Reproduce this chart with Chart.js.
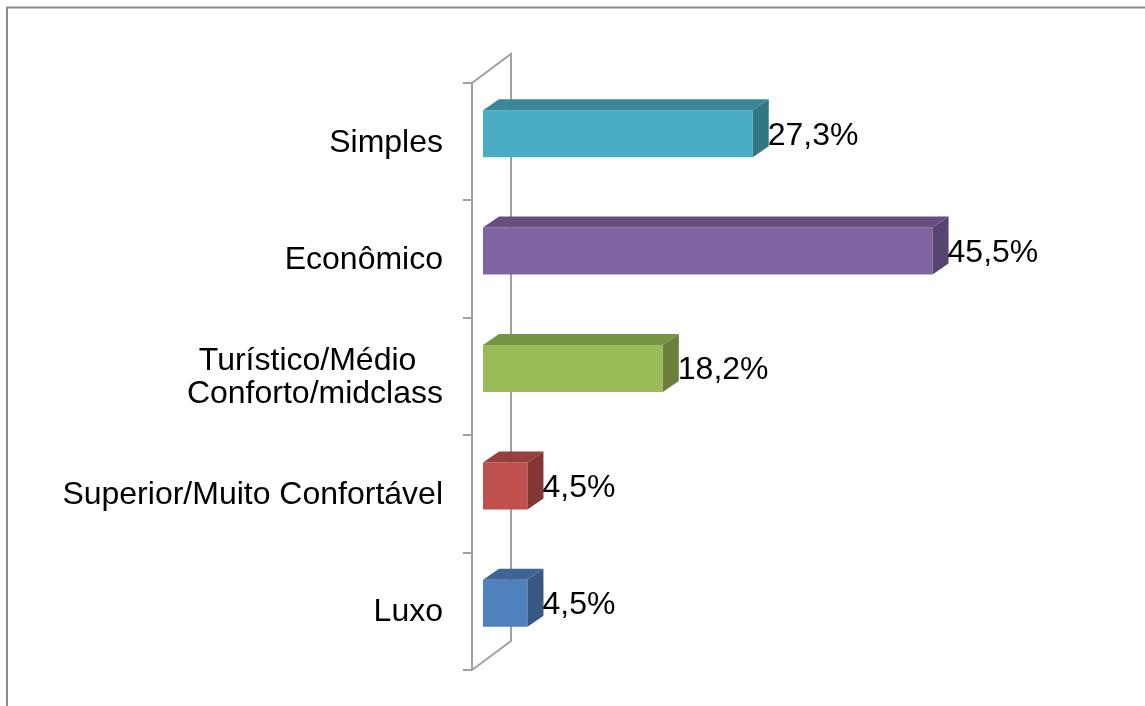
<!DOCTYPE html>
<html>
<head>
<meta charset="utf-8">
<script src="https://cdn.jsdelivr.net/npm/chart.js@4/dist/chart.umd.min.js"></script>
<style>
html,body{margin:0;padding:0;background:#fff;}
canvas{display:block;}
</style>
</head>
<body>
<canvas id="c" width="1145" height="706"></canvas>
<script>
const categories = ["Simples", "Econômico", ["Turístico/Médio\u00a0\u00a0\u00a0", "Conforto/midclass"], "Superior/Muito Confortável", "Luxo"];
const values = [27.3, 45.5, 18.2, 4.5, 4.5];
const frontColors = ["#4BACC6", "#8064A2", "#9BBB59", "#C0504D", "#4F81BD"];
const topColors = ["#3B8799", "#654F80", "#7A9446", "#973F3D", "#3E6595"];
const sideColors = ["#327585", "#574470", "#6A803C", "#833634", "#365881"];

const FONT = "'Liberation Sans', Arial, sans-serif";
const DX = 16, DY = -11;

const frame = {
  id: 'frame',
  beforeDraw(chart) {
    const ctx = chart.ctx;
    ctx.save();
    ctx.strokeStyle = '#8c8c8c';
    ctx.lineWidth = 2;
    ctx.strokeRect(7, 7.5, 1150, 710);
    ctx.restore();
  }
};

const wall = {
  id: 'wall',
  beforeDatasetsDraw(chart) {
    const ctx = chart.ctx, a = chart.chartArea;
    const fx = a.left - 11, bx = fx + 39, off = -29;
    const top = a.top + 8, bot = a.bottom + 8;
    ctx.save();
    ctx.strokeStyle = '#a0a0a0';
    ctx.lineWidth = 2;
    ctx.beginPath();
    ctx.moveTo(fx, bot); ctx.lineTo(fx, top); ctx.lineTo(bx, top + off); ctx.lineTo(bx, bot + off); ctx.lineTo(fx, bot);
    ctx.stroke();
    const n = categories.length;
    ctx.beginPath();
    for (let k = 0; k <= n; k++) {
      const y = Math.round(top + k * (bot - top) / n);
      ctx.moveTo(fx - 9, y); ctx.lineTo(fx, y);
    }
    ctx.stroke();
    ctx.restore();
  }
};

const bars3d = {
  id: 'bars3d',
  afterDatasetsDraw(chart) {
    const ctx = chart.ctx;
    const meta = chart.getDatasetMeta(0);
    ctx.save();
    meta.data.forEach((el, i) => {
      const p = el.getProps(['x', 'y', 'base', 'height'], true);
      const x0 = p.base, x1 = p.x, yT = p.y - p.height / 2, yB = p.y + p.height / 2;
      ctx.fillStyle = topColors[i];
      ctx.beginPath();
      ctx.moveTo(x0, yT); ctx.lineTo(x0 + DX, yT + DY); ctx.lineTo(x1 + DX, yT + DY); ctx.lineTo(x1, yT); ctx.closePath();
      ctx.fill();
      ctx.fillStyle = sideColors[i];
      ctx.beginPath();
      ctx.moveTo(x1, yT); ctx.lineTo(x1 + DX, yT + DY); ctx.lineTo(x1 + DX, yB + DY); ctx.lineTo(x1, yB); ctx.closePath();
      ctx.fill();
      ctx.fillStyle = '#000';
      ctx.font = '32px ' + FONT;
      ctx.textAlign = 'left';
      ctx.textBaseline = 'middle';
      ctx.fillText(values[i].toFixed(1).replace('.', ',') + '%', x1 + 15, p.y + 2);
    });
    ctx.restore();
  }
};

new Chart(document.getElementById('c'), {
  type: 'bar',
  data: {
    labels: categories,
    datasets: [{
      data: values,
      backgroundColor: frontColors,
      borderWidth: 0,
      barPercentage: 0.4,
      categoryPercentage: 1
    }]
  },
  options: {
    indexAxis: 'y',
    responsive: false,
    animation: false,
    layout: { padding: { left: 0, right: 168, top: 75, bottom: 44 } },
    plugins: { legend: { display: false }, tooltip: { enabled: false } },
    scales: {
      x: { display: false, min: 0, max: 50 },
      y: {
        grid: { display: false, drawTicks: false },
        border: { display: false },
        afterFit(s) { s.width = 483; s.paddingTop = 0; s.paddingBottom = 0; },
        ticks: {
          color: '#000',
          font: { family: FONT, size: 32, lineHeight: 1.05 },
          padding: 40,
          labelOffset: 9
        }
      }
    }
  },
  plugins: [frame, wall, bars3d]
});
</script>
</body>
</html>
